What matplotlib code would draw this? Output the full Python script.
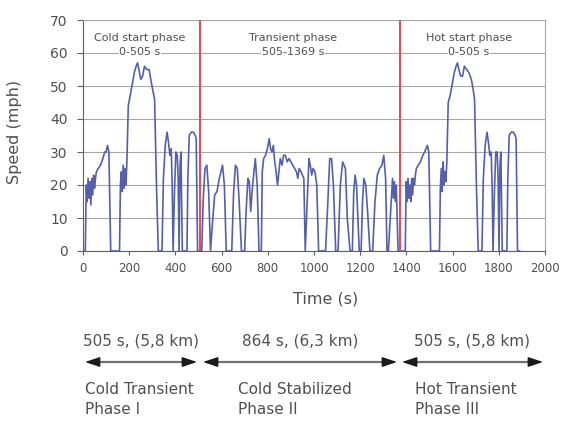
import matplotlib
matplotlib.use("Agg")
import matplotlib.pyplot as plt

# speed trace, one list pair per phase
cold_time = [0, 10, 14, 18, 22, 26, 30, 34, 38, 42, 46, 50, 54, 58, 66, 76, 86, 94, 100, 106,
             112, 120, 158, 162, 166, 170, 174, 178, 182, 186, 190, 196, 204, 212, 222, 230, 236, 242, 250, 258,
             266, 276, 286, 296, 304, 310, 318, 326, 342, 348, 356, 364, 370, 376, 382, 386, 390, 396, 402, 408,
             412, 416, 420, 424, 430, 450, 454, 460, 468, 478, 486, 490, 496, 505]
cold_speed = [0, 0, 20, 15, 22, 16, 21, 14, 22, 17, 23, 19, 22, 24, 25, 26, 28, 30, 30, 32,
              30, 0, 0, 20, 24, 18, 26, 19, 25, 20, 27, 44, 47, 50, 54, 56, 57, 55, 52, 53,
              56, 55, 55, 51, 48, 46, 20, 0, 0, 22, 32, 36, 33, 29, 31, 20, 0, 18, 30, 29,
              22, 0, 26, 30, 0, 0, 22, 35, 36, 36, 35, 34, 0, 0]

trans_time = [505, 514, 520, 528, 536, 544, 552, 560, 570, 580, 590, 604, 612, 620, 644, 652, 660, 668, 676, 686,
              700, 706, 714, 720, 726, 732, 740, 746, 754, 762, 772, 776, 782, 790, 798, 806, 812, 818, 824, 830,
              836, 842, 848, 854, 862, 868, 876, 884, 892, 900, 908, 916, 924, 930, 936, 944, 950, 956, 962, 970,
              978, 984, 990, 996, 1004, 1012, 1020, 1028, 1050, 1060, 1068, 1076, 1084, 1094, 1104, 1114, 1124, 1136, 1144, 1156,
              1166, 1172, 1178, 1184, 1190, 1196, 1204, 1210, 1216, 1224, 1232, 1242, 1254, 1264, 1274, 1284, 1294, 1302, 1310, 1316,
              1322, 1334, 1340, 1344, 1348, 1352, 1356, 1360, 1364, 1370]
trans_speed = [0, 0, 15, 25, 26, 18, 0, 8, 17, 18, 22, 26, 20, 0, 0, 18, 26, 25, 15, 0,
               0, 12, 22, 21, 12, 18, 24, 28, 20, 0, 0, 24, 28, 29, 31, 34, 31, 30, 32, 27,
               24, 20, 24, 28, 26, 29, 29, 27, 28, 27, 26, 25, 24, 22, 25, 24, 23, 22, 0, 14,
               28, 26, 23, 25, 24, 20, 0, 0, 0, 15, 28, 28, 20, 0, 0, 20, 27, 25, 10, 0,
               0, 18, 23, 20, 10, 0, 0, 15, 22, 20, 12, 0, 0, 15, 23, 25, 26, 29, 22, 0,
               0, 15, 22, 16, 21, 15, 20, 10, 0, 0]

hot_time = [1372, 1395, 1399, 1403, 1407, 1411, 1415, 1419, 1423, 1427, 1431, 1435, 1439, 1443, 1451, 1461, 1471, 1479, 1485, 1491,
            1497, 1505, 1543, 1547, 1551, 1555, 1559, 1563, 1567, 1571, 1575, 1581, 1589, 1597, 1607, 1615, 1621, 1627, 1635, 1643,
            1651, 1661, 1671, 1681, 1689, 1695, 1703, 1711, 1727, 1733, 1741, 1749, 1755, 1761, 1767, 1771, 1775, 1781, 1787, 1793,
            1797, 1801, 1805, 1809, 1815, 1835, 1839, 1845, 1853, 1863, 1871, 1875, 1881, 1890]
hot_speed = [0, 0, 21, 15, 22, 16, 20, 15, 22, 17, 22, 20, 23, 25, 26, 27, 29, 30, 31, 32,
             30, 0, 0, 19, 25, 18, 27, 20, 24, 21, 27, 45, 47, 50, 54, 56, 57, 55, 53, 53,
             56, 55, 54, 52, 49, 46, 20, 0, 0, 22, 32, 36, 33, 29, 30, 20, 0, 18, 30, 30,
             22, 0, 26, 30, 0, 0, 22, 35, 36, 36, 35, 34, 0, 0]

phase_bounds = [505, 1372]
phase_titles = [("Cold start phase", "0-505 s", 247),
                ("Transient phase", "505-1369 s", 910),
                ("Hot start phase", "0-505 s", 1671)]
arrow_labels = ["505 s, (5,8 km)", "864 s, (6,3 km)", "505 s, (5,8 km)"]
phase_names = ["Cold Transient\nPhase I", "Cold Stabilized\nPhase II", "Hot Transient\nPhase III"]

W, H = 563, 422
fig = plt.figure(figsize=(W / 100, H / 100), dpi=100)
ax = fig.add_axes([83 / W, 1 - 251 / H, (545 - 83) / W, (251 - 20) / H])

txt = '#505050'
time = cold_time + trans_time + hot_time
speed = cold_speed + trans_speed + hot_speed
ax.plot(time, speed, color='#5560ad', lw=1.2, zorder=3)

for b in phase_bounds:
    ax.axvline(b, color='#e0505f', lw=1.5, zorder=4)

for l1, l2, xc in phase_titles:
    ax.text(xc, 64.6, l1, ha='center', va='center', fontsize=8, color=txt, zorder=5,
            bbox=dict(fc='white', ec='none', pad=0.5))
    ax.text(xc, 60.2, l2, ha='center', va='center', fontsize=8, color=txt, zorder=5,
            bbox=dict(fc='white', ec='none', pad=0.5))

ax.set_xlim(0, 2000)
ax.set_ylim(0, 70)
ax.set_xticks(range(0, 2001, 200))
ax.set_yticks(range(0, 71, 10))
ax.yaxis.grid(True, color='#a8a8a8', lw=0.8)
ax.set_axisbelow(True)
for s in ['left', 'bottom']:
    ax.spines[s].set_color('#606060')
for s in ['top', 'right']:
    ax.spines[s].set_color('#a8a8a8')
ax.tick_params(axis='y', length=4, pad=7, labelsize=10, colors='#606060', labelcolor=txt)
ax.tick_params(axis='x', length=3, pad=5, labelsize=8.5, colors='#606060', labelcolor=txt)

fig.text(326 / W, 1 - 299 / H, "Time (s)", ha='center', va='center', fontsize=11.5, color=txt)
fig.text(15 / W, 1 - 132 / H, "Speed (mph)", ha='center', va='center', rotation=90,
         fontsize=11.5, color=txt)

# arrows under the chart (figure pixels, y from top)
spans = [(85, 197), (203, 397), (402, 543)]
ay = H - 362
head = dict(arrowstyle='-|>,head_length=0.9,head_width=0.3', mutation_scale=10,
            color='#1a1a1a', lw=1, shrinkA=0, shrinkB=0)
for (x0, x1), lab, name, nx in zip(spans, arrow_labels, phase_names, [85, 238, 415]):
    ax.annotate('', xy=(x1 - 6, ay), xytext=(x0 + 6, ay), xycoords='figure pixels',
                textcoords='figure pixels',
                arrowprops=dict(arrowstyle='-', color='#707070', lw=1.6, shrinkA=0, shrinkB=0))
    ax.annotate('', xy=(x0, ay), xytext=(x0 + 14, ay), xycoords='figure pixels',
                textcoords='figure pixels', arrowprops=head)
    ax.annotate('', xy=(x1, ay), xytext=(x1 - 14, ay), xycoords='figure pixels',
                textcoords='figure pixels', arrowprops=head)
    fig.text((x0 + x1) / 2 / W, 1 - 341 / H, lab, ha='center', va='center', fontsize=11, color=txt)
    fig.text(nx / W, 1 - 382 / H, name, ha='left', va='top', fontsize=11, color=txt,
             linespacing=1.45)

fig.savefig('out.png', dpi=100)
